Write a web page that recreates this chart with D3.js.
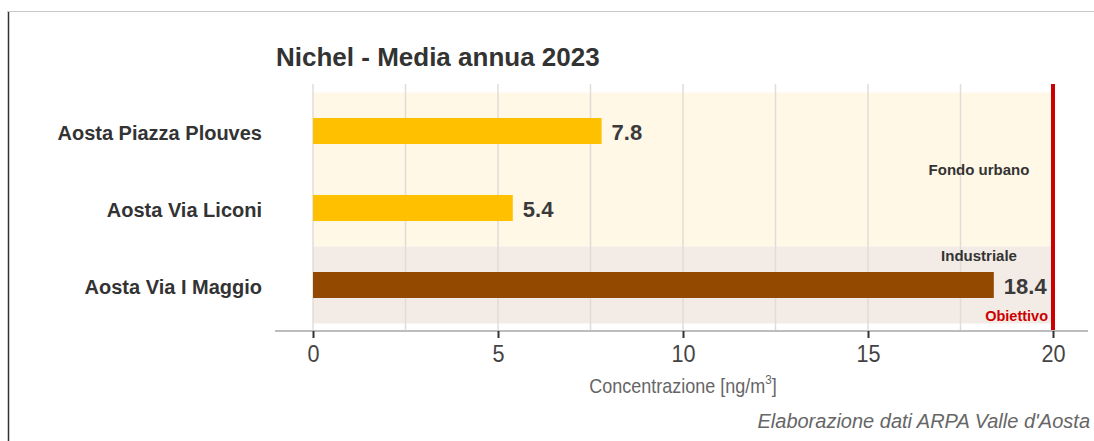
<!DOCTYPE html>
<html>
<head>
<meta charset="utf-8">
<script src="https://cdn.jsdelivr.net/npm/d3@7"></script>
<style>
  html, body { margin: 0; padding: 0; background: #fff; }
  svg { display: block; }
</style>
</head>
<body>
<svg id="chart" width="1094" height="441"></svg>
<script>
// Station names, top to bottom
const stations = ["Aosta Piazza Plouves", "Aosta Via Liconi", "Aosta Via I Maggio"];
// Annual mean nickel concentration (ng/m3)
const values = [7.8, 5.4, 18.4];
// Station type of each row
const stationTypes = ["Fondo urbano", "Fondo urbano", "Industriale"];
// Background groups
const groupNames = ["Fondo urbano", "Industriale"];
// Target value (ng/m3)
const target = 20;
// X axis ticks and grid
const xTicks = [0, 5, 10, 15, 20];
const xGrid = [0, 2.5, 5, 7.5, 10, 12.5, 15, 17.5, 20];

const svg = d3.select("#chart");
const W = 1094, H = 441;
const FONT = "Liberation Sans, Arial, sans-serif";

const typeColor = { "Fondo urbano": "#FFC000", "Industriale": "#934A00" };
const groupFill = { "Fondo urbano": "#FFF8E7", "Industriale": "#F3EBE6" };

const x = d3.scaleLinear().domain([0, 20]).range([313, 1053]);
const y = d3.scaleBand().domain(stations).range([92.5, 323.5]).paddingInner(0).paddingOuter(0);
const barH = 26;
const mid = d => y(d) + y.bandwidth() / 2;

// outer frame lines
svg.append("line").attr("x1", 8.5).attr("x2", 8.5).attr("y1", 11).attr("y2", H)
  .attr("stroke", "#333").attr("stroke-width", 1.5);
svg.append("line").attr("x1", 8).attr("x2", W).attr("y1", 11.5).attr("y2", 11.5)
  .attr("stroke", "#c8c8c8").attr("stroke-width", 1);

// title
svg.append("text").attr("x", 276).attr("y", 66)
  .attr("font-family", FONT)
  .attr("font-weight", "bold").attr("font-size", 26).attr("fill", "#333")
  .text("Nichel - Media annua 2023");

// group background bands
groupNames.forEach(g => {
  const rows = stations.filter((s, i) => stationTypes[i] === g);
  const y0 = d3.min(rows, r => y(r));
  const y1 = d3.max(rows, r => y(r) + y.bandwidth());
  svg.append("rect").attr("x", x(0)).attr("y", y0)
    .attr("width", x(target) - x(0)).attr("height", y1 - y0)
    .attr("fill", groupFill[g]);
});

// vertical grid
svg.append("g").selectAll("line").data(xGrid).join("line")
  .attr("x1", d => x(d)).attr("x2", d => x(d))
  .attr("y1", 84).attr("y2", 330)
  .attr("stroke", "#e2dcd6").attr("stroke-width", 1.5);

// bars
svg.append("g").selectAll("rect").data(stations).join("rect")
  .attr("x", x(0))
  .attr("y", d => mid(d) - barH / 2)
  .attr("width", (d, i) => x(values[i]) - x(0))
  .attr("height", barH)
  .attr("fill", (d, i) => typeColor[stationTypes[i]]);

// value labels
svg.append("g").selectAll("text").data(stations).join("text")
  .attr("x", (d, i) => x(values[i]) + 10)
  .attr("y", d => mid(d) + 9)
  .attr("font-family", FONT)
  .attr("font-weight", "bold").attr("font-size", 22).attr("fill", "#3a3a3a")
  .text((d, i) => d3.format(".1f")(values[i]));

// station labels
svg.append("g").selectAll("text").data(stations).join("text")
  .attr("x", 262)
  .attr("y", d => mid(d) + 8.5)
  .attr("text-anchor", "end")
  .attr("font-family", FONT)
  .attr("font-weight", "bold").attr("font-size", 20).attr("fill", "#333")
  .text(d => d);

// group labels
const urbanRows = stations.filter((s, i) => stationTypes[i] === "Fondo urbano");
const indRows = stations.filter((s, i) => stationTypes[i] === "Industriale");
const urbanMid = (y(urbanRows[0]) + y(urbanRows[urbanRows.length - 1]) + y.bandwidth()) / 2;
svg.append("text").attr("x", 979).attr("y", urbanMid + 5.5)
  .attr("text-anchor", "middle")
  .attr("font-family", FONT)
  .attr("font-weight", "bold").attr("font-size", 15).attr("fill", "#333")
  .text("Fondo urbano");
svg.append("text").attr("x", 979).attr("y", y(indRows[0]) + 14)
  .attr("text-anchor", "middle")
  .attr("font-family", FONT)
  .attr("font-weight", "bold").attr("font-size", 15).attr("fill", "#333")
  .text("Industriale");

// target line and label
svg.append("line").attr("x1", x(target)).attr("x2", x(target))
  .attr("y1", 84).attr("y2", 330)
  .attr("stroke", "#CC0000").attr("stroke-width", 4);
svg.append("text").attr("x", x(target) - 5).attr("y", 321)
  .attr("text-anchor", "end")
  .attr("font-family", FONT)
  .attr("font-weight", "bold").attr("font-size", 14.5).attr("fill", "#CC0000")
  .text("Obiettivo");

// x axis
const axis = svg.append("g").attr("transform", "translate(0,331)")
  .call(d3.axisBottom(x).tickValues(xTicks).tickSize(7).tickPadding(7).tickFormat(d3.format("d")));
axis.select(".domain").remove();
axis.insert("line", ":first-child").attr("x1", 275).attr("x2", 1088).attr("y1", 0).attr("y2", 0)
  .attr("stroke", "#bdbdbd").attr("stroke-width", 2);
axis.selectAll(".tick line").attr("stroke", "#333").attr("stroke-width", 2);
axis.selectAll(".tick text")
  .attr("font-family", FONT)
  .attr("font-size", 24).attr("fill", "#444")
  .attr("transform", "scale(0.9,1)");

// axis title
const axTitle = svg.append("text")
  .attr("transform", `translate(${x(10)},393) scale(0.9,1)`)
  .attr("text-anchor", "middle")
  .attr("font-family", FONT)
  .attr("font-size", 20).attr("fill", "#666");
axTitle.append("tspan").text("Concentrazione [ng/m");
axTitle.append("tspan").attr("dy", -9).attr("font-size", 13).text("3");
axTitle.append("tspan").attr("dy", 9).text("]");

// caption
svg.append("text").attr("x", 1090).attr("y", 428)
  .attr("text-anchor", "end")
  .attr("font-family", FONT)
  .attr("font-style", "italic").attr("font-size", 20).attr("fill", "#666")
  .text("Elaborazione dati ARPA Valle d'Aosta");
</script>
</body>
</html>
